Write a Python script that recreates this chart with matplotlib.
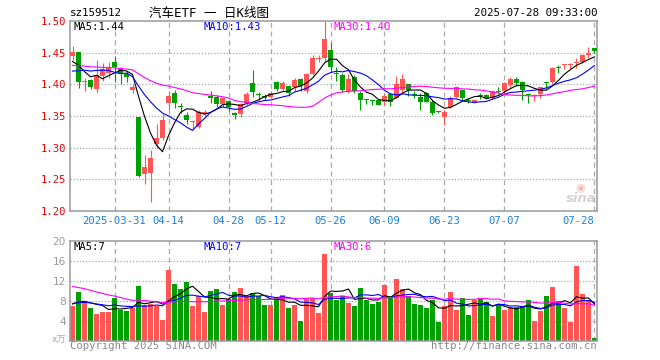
import matplotlib.pyplot as plt
import numpy as np
import pandas as pd

# daily candles of sz159512, 2025-03-20 .. 2025-07-28 (88 sessions)
opens = [1.445, 1.451, 1.403, 1.407, 1.392, 1.413, 1.418, 1.436, 1.424, 1.416,
         1.391, 1.349, 1.258, 1.260, 1.306, 1.315, 1.371, 1.386, 1.366, 1.352,
         1.341, 1.332, 1.353, 1.382, 1.380, 1.369, 1.374, 1.355, 1.353, 1.370,
         1.402, 1.384, 1.382, 1.380, 1.404, 1.393, 1.397, 1.396, 1.408, 1.389,
         1.417, 1.440, 1.441, 1.454, 1.417, 1.415, 1.389, 1.412, 1.387, 1.376,
         1.375, 1.375, 1.372, 1.384, 1.379, 1.391, 1.400, 1.384, 1.380, 1.386,
         1.372, 1.357, 1.349, 1.365, 1.380, 1.391, 1.375, 1.370, 1.383, 1.383,
         1.379, 1.389, 1.389, 1.399, 1.409, 1.404, 1.384, 1.382, 1.384, 1.403,
         1.404, 1.427, 1.431, 1.431, 1.434, 1.436, 1.446, 1.457]
closes = [1.451, 1.403, 1.406, 1.396, 1.415, 1.424, 1.427, 1.428, 1.416, 1.411,
          1.396, 1.255, 1.270, 1.283, 1.316, 1.344, 1.382, 1.371, 1.365, 1.344,
          1.342, 1.357, 1.357, 1.378, 1.369, 1.378, 1.364, 1.352, 1.369, 1.385,
          1.388, 1.383, 1.378, 1.386, 1.393, 1.402, 1.386, 1.407, 1.398, 1.417,
          1.441, 1.441, 1.472, 1.428, 1.416, 1.391, 1.408, 1.389, 1.375, 1.375,
          1.374, 1.367, 1.382, 1.372, 1.400, 1.409, 1.391, 1.383, 1.372, 1.372,
          1.354, 1.356, 1.357, 1.379, 1.396, 1.379, 1.374, 1.375, 1.382, 1.378,
          1.389, 1.388, 1.402, 1.409, 1.402, 1.391, 1.383, 1.383, 1.395, 1.402,
          1.425, 1.426, 1.432, 1.432, 1.435, 1.447, 1.450, 1.453]
highs = [1.461, 1.451, 1.410, 1.409, 1.438, 1.433, 1.436, 1.444, 1.427, 1.421,
         1.400, 1.349, 1.288, 1.296, 1.337, 1.353, 1.389, 1.391, 1.371, 1.357,
         1.342, 1.359, 1.360, 1.390, 1.383, 1.380, 1.376, 1.357, 1.370, 1.388,
         1.423, 1.388, 1.385, 1.390, 1.406, 1.405, 1.398, 1.410, 1.410, 1.418,
         1.447, 1.447, 1.500, 1.465, 1.427, 1.418, 1.417, 1.414, 1.389, 1.377,
         1.376, 1.377, 1.384, 1.386, 1.413, 1.417, 1.401, 1.389, 1.387, 1.388,
         1.376, 1.358, 1.359, 1.381, 1.398, 1.392, 1.379, 1.376, 1.386, 1.385,
         1.390, 1.396, 1.403, 1.411, 1.411, 1.406, 1.386, 1.384, 1.396, 1.404,
         1.427, 1.430, 1.432, 1.433, 1.442, 1.448, 1.459, 1.457]
lows = [1.438, 1.394, 1.390, 1.393, 1.388, 1.405, 1.410, 1.403, 1.400, 1.404,
        1.386, 1.254, 1.243, 1.214, 1.300, 1.312, 1.360, 1.363, 1.355, 1.338,
        1.330, 1.331, 1.350, 1.370, 1.364, 1.364, 1.358, 1.346, 1.348, 1.367,
        1.380, 1.375, 1.375, 1.378, 1.390, 1.390, 1.381, 1.389, 1.389, 1.387,
        1.415, 1.436, 1.436, 1.420, 1.405, 1.388, 1.387, 1.386, 1.360, 1.369,
        1.368, 1.367, 1.368, 1.366, 1.378, 1.385, 1.381, 1.378, 1.360, 1.372,
        1.352, 1.354, 1.336, 1.362, 1.378, 1.374, 1.371, 1.370, 1.377, 1.377,
        1.377, 1.384, 1.386, 1.394, 1.397, 1.375, 1.370, 1.373, 1.378, 1.392,
        1.401, 1.418, 1.424, 1.424, 1.426, 1.434, 1.441, 1.450]
# volume, 万手
volumes = [7.0, 9.8, 7.9, 6.6, 5.4, 5.8, 5.8, 8.7, 6.3, 6.0,
           6.7, 11.0, 7.2, 7.4, 7.1, 4.2, 14.2, 11.4, 10.4, 11.8,
           7.0, 9.0, 5.8, 10.0, 10.4, 7.2, 8.5, 9.8, 10.6, 9.0,
           9.6, 9.0, 7.2, 7.2, 8.6, 9.2, 6.6, 7.2, 4.1, 8.6,
           8.6, 5.7, 17.4, 9.6, 8.3, 9.0, 7.7, 7.0, 10.6, 8.3,
           7.4, 7.8, 11.2, 9.0, 12.4, 10.4, 9.0, 7.4, 7.2, 6.6,
           8.2, 3.8, 7.0, 9.8, 6.2, 8.6, 5.2, 8.2, 8.6, 7.8,
           5.0, 7.2, 6.2, 6.8, 6.8, 7.0, 8.2, 4.0, 6.0, 9.0,
           10.8, 8.0, 6.6, 3.8, 15.0, 9.4, 8.2, 0.6]

# the 29 sessions before the window, only needed to start the moving averages
prior_closes = [1.420, 1.425, 1.430, 1.428, 1.435, 1.440, 1.445, 1.442, 1.438, 1.436,
                1.440, 1.445, 1.438, 1.432, 1.430, 1.434, 1.436, 1.430, 1.428, 1.438,
                1.400, 1.395, 1.410, 1.405, 1.420, 1.431, 1.458, 1.436, 1.404]
prior_volumes = [16.5, 14.0, 17.2, 15.1, 13.8, 16.0, 14.6, 15.3, 14.9, 14.6,
                 10.2, 9.4, 11.0, 10.5, 9.6, 10.8, 9.2, 10.1, 9.8, 9.4,
                 8.1, 7.2, 7.9, 7.4, 7.4, 7.8, 7.2, 8.1, 6.9]

tick_idx = [7, 16, 26, 33, 43, 52, 62, 72, 87]
tick_labels = ['2025-03-31', '04-14', '04-28', '05-12', '05-26',
               '06-09', '06-23', '07-07', '07-28']
price_ticks = [1.20, 1.25, 1.30, 1.35, 1.40, 1.45, 1.50]
vol_ticks = [4, 8, 12, 16, 20]

RED = '#ff5555'
GREEN = '#00a000'
FRAME = '#999999'
GRID = '#aaaaaa'
MONO = 'DejaVu Sans Mono'

W, H = 660, 360


def px(x, y):
    return x / W, 1 - y / H


def moving_avg(prior, vals, n):
    s = pd.Series(list(prior) + list(vals))
    return s.rolling(n).mean().values[len(prior):]


o = np.array(opens)
c = np.array(closes)
h = np.array(highs)
l = np.array(lows)
v = np.array(volumes)
x = np.arange(len(c))
col = np.where(c > o, RED, GREEN)

fig = plt.figure(figsize=(W / 100, H / 100), dpi=100)
ax = fig.add_axes([70 / W, 1 - 211 / H, 527 / W, 190 / H])
axv = fig.add_axes([70 / W, 1 - 341 / H, 527 / W, 100 / H])

for a in (ax, axv):
    a.set_xlim(-0.417, len(c) - 0.583)
    for sp in a.spines.values():
        sp.set_color(FRAME)
        sp.set_linewidth(1.1)
    for t in tick_idx:
        a.axvline(t, color=GRID, lw=0.9, ls=(0, (4, 3)), zorder=0)
    a.tick_params(length=0)

# price panel
ax.set_ylim(1.20, 1.50)
for p in price_ticks[1:-1]:
    ax.axhline(p, color=GRID, lw=0.9, ls=(0, (1, 1.5)), zorder=0)
ax.vlines(x, l, h, colors=col, lw=0.8, zorder=2)
body = np.maximum(np.abs(c - o), 0.0012)
ax.bar(x, body, bottom=np.minimum(o, c), width=0.83, color=col, lw=0, zorder=3)
ax.plot(x, moving_avg(prior_closes, c, 5), color='black', lw=0.8, zorder=4)
ax.plot(x, moving_avg(prior_closes, c, 10), color='#0000ff', lw=0.8, zorder=4)
ax.plot(x, moving_avg(prior_closes, c, 30), color='#ff00ff', lw=0.8, zorder=4)
ax.set_yticks(price_ticks)
ax.set_yticklabels(['%.2f' % p for p in price_ticks], color='#ee0000',
                   fontsize=7.6, family=MONO)
ax.tick_params(axis='y', pad=2.8)
ax.set_xticks(tick_idx)
ax.set_xticklabels(tick_labels, color='#1a80d8', fontsize=7.6, family=MONO)
ax.tick_params(axis='x', pad=3.5)
ax.get_xticklabels()[-1].set_horizontalalignment('right')

# volume panel
axv.set_ylim(0, 20)
for t in vol_ticks[:-1]:
    axv.axhline(t, color=GRID, lw=0.9, ls=(0, (1, 1.5)), zorder=0)
axv.bar(x, v, width=0.83, color=col, lw=0, zorder=2)
axv.plot(x, moving_avg(prior_volumes, v, 5), color='black', lw=0.8, zorder=3)
axv.plot(x, moving_avg(prior_volumes, v, 10), color='#0000ff', lw=0.8, zorder=3)
axv.plot(x, moving_avg(prior_volumes, v, 30), color='#ff00ff', lw=0.8, zorder=3)
axv.set_yticks(vol_ticks)
axv.set_yticklabels([str(t) for t in vol_ticks], color='#999999', fontsize=7.6)
axv.tick_params(axis='y', pad=2.8)
axv.set_xticks([])

# texts
fig.text(*px(70, 13), 'sz159512', fontsize=7.8, family=MONO, va='center')
fig.text(*px(209, 13), '汽车ETF 一 日K线图', fontsize=9, ha='center', va='center',
         family=[MONO, 'Noto Sans CJK SC'])
fig.text(*px(597, 13), '2025-07-28 09:33:00', fontsize=7.8, family=MONO,
         ha='right', va='center')

fig.text(*px(74, 26.5), 'MA5:1.44', fontsize=7.6, family=MONO, va='center', color='black')
fig.text(*px(204, 26.5), 'MA10:1.43', fontsize=7.6, family=MONO, va='center', color='#0000ff')
fig.text(*px(334, 26.5), 'MA30:1.40', fontsize=7.6, family=MONO, va='center', color='#ff00ff')

fig.text(*px(74, 246.5), 'MA5:7', fontsize=7.6, family=MONO, va='center', color='black')
fig.text(*px(204, 246.5), 'MA10:7', fontsize=7.6, family=MONO, va='center', color='#0000ff')
fig.text(*px(334, 246.5), 'MA30:6', fontsize=7.6, family=MONO, va='center', color='#ff00ff')

fig.text(*px(66, 340), 'x万', fontsize=6.5, ha='right', va='center', color='#aaaaaa',
         family=['DejaVu Sans', 'Noto Sans CJK SC'])
fig.text(*px(70, 346), 'Copyright 2025 SINA.COM', fontsize=7.6, family=MONO,
         va='center', color='#888888')
fig.text(*px(597, 346), 'http://finance.sina.com.cn', fontsize=7.6, family=MONO,
         ha='right', va='center', color='#888888')

# sina watermark
fig.text(*px(581, 199), 'sina', fontsize=9.5, fontweight='bold', style='italic',
         ha='center', va='center', color='#c8c8c8', alpha=0.8)
fig.text(*px(580, 188), '◉', fontsize=8, ha='center', va='center', color='#f4a0a0', alpha=0.7)

fig.savefig('out.png', dpi=100)
